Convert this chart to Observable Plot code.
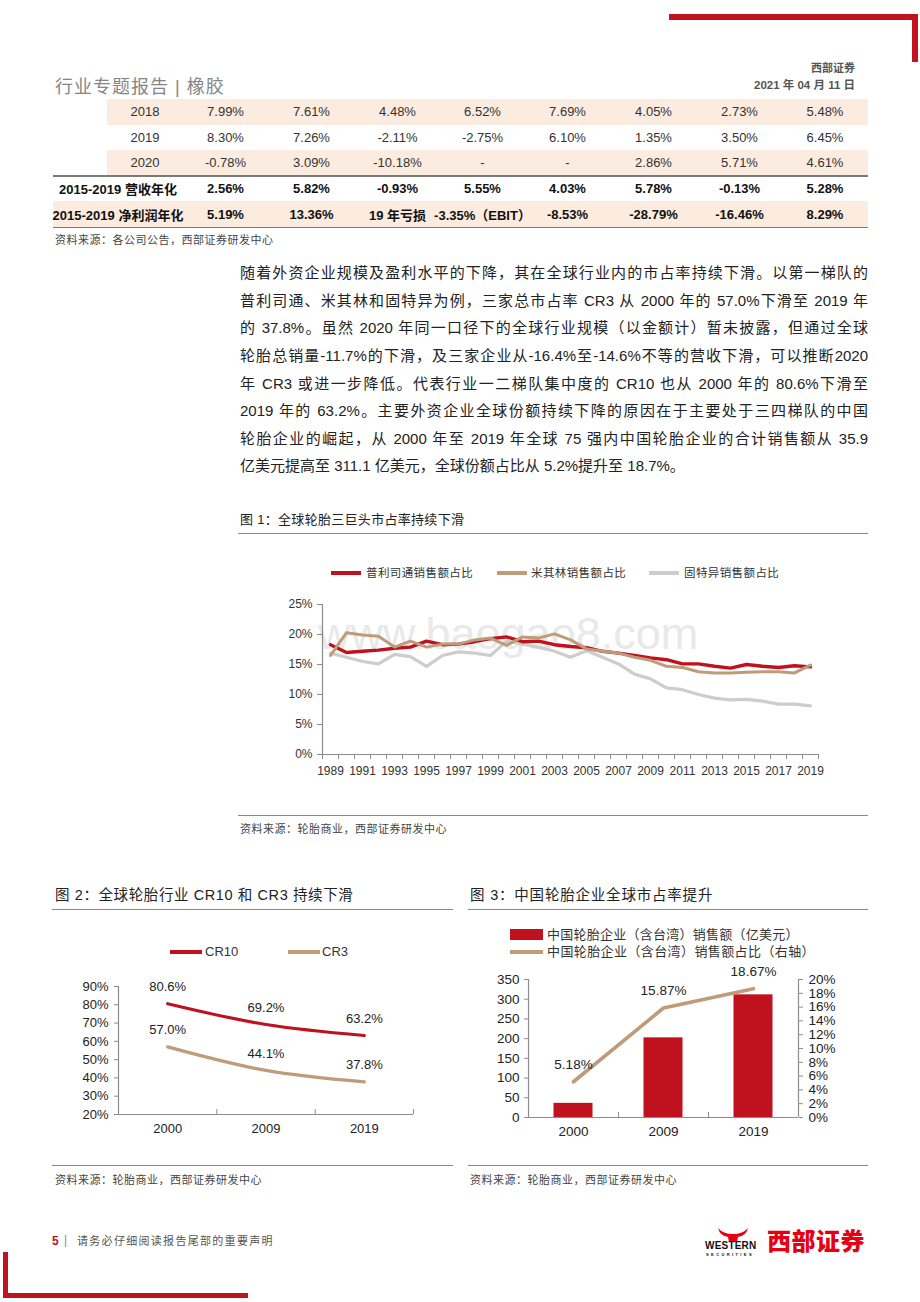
<!DOCTYPE html>
<html><head><meta charset="utf-8">
<script src="https://cdn.jsdelivr.net/npm/d3@7"></script>
<script src="https://cdn.jsdelivr.net/npm/@observablehq/plot@0.6"></script>
<style>
html,body{margin:0;padding:0;background:#fff;}
#page{position:relative;width:920px;height:1302px;overflow:hidden;font-family:"Liberation Sans","Noto Sans CJK SC",sans-serif;color:#333;}
.abs{position:absolute;white-space:nowrap;}
.bar{position:absolute;background:#c0121f;}
.rule{position:absolute;height:0;border-top:1.6px solid #8a8a8a;}
.cell{position:absolute;display:flex;justify-content:center;align-items:center;white-space:nowrap;font-size:13px;color:#333;}
.pline{position:absolute;left:240px;width:628px;font-size:15px;line-height:27.6px;height:27.6px;text-align:justify;text-align-last:justify;white-space:nowrap;color:#222;}
.src{position:absolute;font-size:11px;color:#444;letter-spacing:0.5px;white-space:nowrap;line-height:14px;}
.ttl{position:absolute;color:#222;white-space:nowrap;}
.leg{position:absolute;white-space:nowrap;color:#333;}
</style></head><body><div id="page">

<!-- frame decorations -->
<div class="bar" style="left:669px;top:14px;width:249px;height:6px;"></div>
<div class="bar" style="left:912px;top:14px;width:6px;height:48px;"></div>
<div class="bar" style="left:3px;top:1252px;width:5px;height:46px;"></div>
<div class="bar" style="left:3px;top:1293px;width:245px;height:5px;"></div>

<div class="abs" style="left:55px;top:76px;font-size:18px;line-height:22px;color:#858585;letter-spacing:1px;">行业专题报告 | 橡胶</div>
<div class="abs" style="right:65px;top:61px;font-size:11px;line-height:14px;color:#555;font-weight:bold;">西部证券</div>
<div class="abs" style="right:65px;top:78px;font-size:11.5px;line-height:14px;color:#555;font-weight:bold;">2021 年 04 月 11 日</div>

<div id="table"></div>
<div class="src" style="left:55px;top:233px;">资料来源：各公司公告，西部证券研发中心</div>

<div id="para"></div>

<!-- figure 1 -->
<div class="ttl" style="left:240px;top:512px;font-size:13px;line-height:16px;letter-spacing:0.3px;">图 1：全球轮胎三巨头市占率持续下滑</div>
<div class="rule" style="left:238px;top:533px;width:630px;"></div>
<div id="leg1"></div>
<div class="abs" style="left:318px;top:609px;font-size:45px;line-height:50px;color:#e9e9e9;font-family:'Liberation Sans',sans-serif;">www.baogao8.com</div>
<div id="chart1" class="abs" style="left:238px;top:590px;"></div>
<div class="rule" style="left:238px;top:815px;width:630px;"></div>
<div class="src" style="left:240px;top:822px;">资料来源：轮胎商业，西部证券研发中心</div>

<!-- figure 2 -->
<div class="ttl" style="left:55px;top:886px;font-size:14.5px;line-height:18px;letter-spacing:0.6px;">图 2：全球轮胎行业 CR10 和 CR3 持续下滑</div>
<div class="rule" style="left:52px;top:909px;width:401px;"></div>
<div id="leg2"></div>
<div id="chart2" class="abs" style="left:52px;top:965px;"></div>
<div class="rule" style="left:52px;top:1165px;width:401px;"></div>
<div class="src" style="left:55px;top:1173px;">资料来源：轮胎商业，西部证券研发中心</div>

<!-- figure 3 -->
<div class="ttl" style="left:470px;top:886px;font-size:14.5px;line-height:18px;letter-spacing:0.8px;">图 3：中国轮胎企业全球市占率提升</div>
<div class="rule" style="left:468px;top:909px;width:400px;"></div>
<div id="leg3"></div>
<div id="chart3" class="abs" style="left:468px;top:965px;"></div>
<div class="rule" style="left:468px;top:1165px;width:400px;"></div>
<div class="src" style="left:470px;top:1173px;">资料来源：轮胎商业，西部证券研发中心</div>

<!-- footer -->
<div class="abs" style="left:52px;top:1233px;font-size:12px;line-height:16px;color:#c0121f;font-weight:bold;">5</div>
<div class="abs" style="left:64px;top:1232px;font-size:12px;line-height:16px;color:#888;">|</div>
<div class="abs" style="left:77px;top:1234px;font-size:11px;line-height:14px;color:#555;letter-spacing:1.3px;">请务必仔细阅读报告尾部的重要声明</div>
<svg class="abs" style="left:716px;top:1227px;" width="34" height="16" viewBox="0 0 34 16">
  <path d="M2,1 Q4,9 12,10 L13,15 L21,15 L22,10 Q30,9 32,1 Q27,7 17,7 Q7,7 2,1 Z" fill="#e60012"/>
</svg>
<div class="abs" style="left:705px;top:1240px;font-size:10px;line-height:12px;font-weight:bold;color:#111;letter-spacing:0.2px;">WESTERN</div>
<div class="abs" style="left:706px;top:1252px;font-size:4px;line-height:5px;font-weight:bold;color:#111;letter-spacing:2.4px;">SECURITIES</div>
<div class="abs" style="left:767px;top:1228px;font-size:24px;line-height:28px;font-weight:900;color:#e60012;letter-spacing:0.5px;">西部证券</div>

</div>
<script>
// ---------------- data ----------------
const tableYears = ["2018", "2019", "2020"];
const tableRows = [
  ["7.99%", "7.61%", "4.48%", "6.52%", "7.69%", "4.05%", "2.73%", "5.48%"],
  ["8.30%", "7.26%", "-2.11%", "-2.75%", "6.10%", "1.35%", "3.50%", "6.45%"],
  ["-0.78%", "3.09%", "-10.18%", "-", "-", "2.86%", "5.71%", "4.61%"]
];
const revenueLabel = "2015-2019 营收年化";
const revenueCagr = ["2.56%", "5.82%", "-0.93%", "5.55%", "4.03%", "5.78%", "-0.13%", "5.28%"];
const profitLabel = "2015-2019 净利润年化";
const profitCagr = ["5.19%", "13.36%", "19 年亏损", "-3.35%（EBIT）", "-8.53%", "-28.79%", "-16.46%", "8.29%"];

const paragraphLines = [
  "随着外资企业规模及盈利水平的下降，其在全球行业内的市占率持续下滑。以第一梯队的",
  "普利司通、米其林和固特异为例，三家总市占率 CR3 从 2000 年的 57.0%下滑至 2019 年",
  "的 37.8%。虽然 2020 年同一口径下的全球行业规模（以金额计）暂未披露，但通过全球",
  "轮胎总销量-11.7%的下滑，及三家企业从-16.4%至-14.6%不等的营收下滑，可以推断2020",
  "年 CR3 或进一步降低。代表行业一二梯队集中度的 CR10 也从 2000 年的 80.6%下滑至",
  "2019 年的 63.2%。主要外资企业全球份额持续下降的原因在于主要处于三四梯队的中国",
  "轮胎企业的崛起，从 2000 年至 2019 年全球 75 强内中国轮胎企业的合计销售额从 35.9",
  "亿美元提高至 311.1 亿美元，全球份额占比从 5.2%提升至 18.7%。"
];

// Figure 1
const years1 = [1989, 1990, 1991, 1992, 1993, 1994, 1995, 1996, 1997, 1998, 1999, 2000, 2001, 2002, 2003, 2004, 2005, 2006, 2007, 2008, 2009, 2010, 2011, 2012, 2013, 2014, 2015, 2016, 2017, 2018, 2019];
const bridgestone = [18.3, 17.0, 17.2, 17.4, 17.7, 17.9, 18.9, 18.3, 18.4, 18.8, 19.3, 19.6, 18.8, 18.9, 18.3, 18.0, 17.8, 17.2, 16.9, 16.5, 16.1, 15.8, 15.1, 15.1, 14.7, 14.4, 15.0, 14.7, 14.5, 14.8, 14.6];
const michelin = [16.5, 20.3, 19.9, 19.7, 17.9, 18.9, 17.9, 18.4, 18.4, 19.1, 19.4, 18.2, 19.6, 19.4, 20.1, 19.1, 17.6, 17.2, 16.9, 16.2, 15.7, 14.7, 14.5, 13.8, 13.6, 13.6, 13.7, 13.8, 13.8, 13.6, 14.9];
const goodyear = [16.9, 16.2, 15.5, 15.1, 16.7, 16.3, 14.7, 16.5, 17.1, 16.9, 16.5, 18.9, 18.4, 17.9, 17.2, 16.2, 17.3, 16.2, 15.1, 13.4, 12.6, 11.1, 10.8, 10.0, 9.4, 9.1, 9.2, 8.9, 8.4, 8.4, 8.1];
const seriesNames1 = ["普利司通销售额占比", "米其林销售额占比", "固特异销售额占比"];
const yTicks1 = [0, 5, 10, 15, 20, 25];
const xLabelYears1 = [1989, 1991, 1993, 1995, 1997, 1999, 2001, 2003, 2005, 2007, 2009, 2011, 2013, 2015, 2017, 2019];

// Figure 2
const cats2 = ["2000", "2009", "2019"];
const cr10 = [80.6, 69.2, 63.2];
const cr3 = [57.0, 44.1, 37.8];
const seriesNames2 = ["CR10", "CR3"];
const yTicks2 = [20, 30, 40, 50, 60, 70, 80, 90];

// Figure 3
const cats3 = ["2000", "2009", "2019"];
const chinaSales = [35.9, 202.0, 311.1];
const chinaShare = [5.18, 15.87, 18.67];
const seriesNames3 = ["中国轮胎企业（含台湾）销售额（亿美元）", "中国轮胎企业（含台湾）销售额占比（右轴）"];
const leftTicks3 = [0, 50, 100, 150, 200, 250, 300, 350];
const rightTicks3 = [0, 2, 4, 6, 8, 10, 12, 14, 16, 18, 20];

// ---------------- styles ----------------
const RED = "#c0111f", TAN = "#bf9b79", GRAY = "#cdcdcd", AXIS = "#8c8c8c";
const FONT = "'Liberation Sans','Noto Sans CJK SC',sans-serif";

// ---------------- table ----------------
(function buildTable() {
  const host = document.getElementById("table");
  const edges = [53, 107, 183, 268, 355, 440, 525, 610, 697, 782, 868];
  const top0 = 99, rh = 25.6;
  const add = (html) => host.insertAdjacentHTML("beforeend", html);
  const bg = "#fcebdf";
  add(`<div class="abs" style="left:107px;top:${top0}px;width:761px;height:${rh}px;background:${bg}"></div>`);
  add(`<div class="abs" style="left:107px;top:${top0 + 2 * rh}px;width:761px;height:${rh}px;background:${bg}"></div>`);
  add(`<div class="abs" style="left:53px;top:${top0 + 4 * rh}px;width:815px;height:${rh}px;background:${bg}"></div>`);
  const cell = (c0, c1, r, text, bold) => add(`<div class="cell" style="left:${edges[c0]}px;width:${edges[c1] - edges[c0]}px;top:${top0 + r * rh}px;height:${rh}px;${bold ? "font-weight:bold;color:#111;" : ""}">${text}</div>`);
  tableYears.forEach((y, r) => {
    cell(1, 2, r, y, false);
    tableRows[r].forEach((v, j) => cell(j + 2, j + 3, r, v, false));
  });
  cell(0, 2, 3, revenueLabel, true);
  revenueCagr.forEach((v, j) => cell(j + 2, j + 3, 3, v, true));
  cell(0, 2, 4, profitLabel, true);
  profitCagr.forEach((v, j) => cell(j + 2, j + 3, 4, v, true));
  add(`<div class="abs" style="left:53px;top:${top0 + 3 * rh - 1}px;width:815px;height:2px;background:#7a7a7a"></div>`);
  add(`<div class="abs" style="left:53px;top:${top0 + 5 * rh - 0.5}px;width:815px;height:1.5px;background:#7a7a7a"></div>`);
})();

// ---------------- paragraph ----------------
(function buildPara() {
  const host = document.getElementById("para");
  paragraphLines.forEach((t, i) => {
    const last = i === paragraphLines.length - 1;
    host.insertAdjacentHTML("beforeend", `<div class="pline" style="top:${259.2 + i * 27.6}px;${last ? "text-align:left;text-align-last:left;" : ""}">${t}</div>`);
  });
})();

// ---------------- legends ----------------
function lineSwatch(x, y, w, color, th) {
  return `<div class="abs" style="left:${x}px;top:${y - th / 2}px;width:${w}px;height:${th}px;background:${color}"></div>`;
}
(function legends() {
  const l1 = document.getElementById("leg1");
  const cols1 = [RED, TAN, GRAY];
  const sx = [331, 497, 649], tx = [366, 531, 684];
  seriesNames1.forEach((n, i) => {
    l1.insertAdjacentHTML("beforeend", lineSwatch(sx[i], 573, 30, cols1[i], 3.5));
    l1.insertAdjacentHTML("beforeend", `<div class="leg" style="left:${tx[i]}px;top:565px;font-size:11.5px;line-height:16px;letter-spacing:0.4px;">${n}</div>`);
  });
  const l2 = document.getElementById("leg2");
  const cols2 = [RED, TAN];
  const sx2 = [170, 288], tx2 = [205, 322];
  seriesNames2.forEach((n, i) => {
    l2.insertAdjacentHTML("beforeend", lineSwatch(sx2[i], 952, 32, cols2[i], 3.5));
    l2.insertAdjacentHTML("beforeend", `<div class="leg" style="left:${tx2[i]}px;top:944px;font-size:13px;line-height:16px;">${n}</div>`);
  });
  const l3 = document.getElementById("leg3");
  l3.insertAdjacentHTML("beforeend", `<div class="abs" style="left:510px;top:929px;width:33px;height:11px;background:${RED}"></div>`);
  l3.insertAdjacentHTML("beforeend", `<div class="leg" style="left:547px;top:926px;font-size:13px;line-height:17px;letter-spacing:0.25px;">${seriesNames3[0]}</div>`);
  l3.insertAdjacentHTML("beforeend", lineSwatch(510, 952, 33, TAN, 4));
  l3.insertAdjacentHTML("beforeend", `<div class="leg" style="left:547px;top:943px;font-size:13px;line-height:17px;letter-spacing:0.4px;">${seriesNames3[1]}</div>`);
})();

// ---------------- chart 1 ----------------
(function chart1() {
  const rows = years1.map((y, i) => ({year: y, b: bridgestone[i], m: michelin[i], g: goodyear[i]}));
  const lo = years1[0] - 0.5, hi = years1[years1.length - 1] + 0.5;
  const bounds = years1.map(y => y - 0.5).concat([hi]);
  const svg = Plot.plot({
    width: 630, height: 200,
    marginLeft: 84, marginRight: 50, marginTop: 14, marginBottom: 36,
    style: {fontFamily: FONT, fontSize: "12px", background: "transparent", overflow: "visible", color: "#333"},
    x: {domain: [lo, hi]},
    y: {domain: [0, 25]},
    marks: [
      Plot.axisY({ticks: yTicks1, tickFormat: d => d + "%", tickSize: 5, tickPadding: 5, stroke: AXIS, fill: "#333", label: null, fontSize: 12}),
      Plot.axisX({ticks: bounds, tickFormat: () => "", tickSize: 5, stroke: AXIS, label: null}),
      Plot.axisX({ticks: xLabelYears1, tickFormat: d => String(d), tickSize: 0, tickPadding: 12, fill: "#333", label: null, fontSize: 12}),
      Plot.ruleY([0], {stroke: AXIS, strokeWidth: 1.2}),
      Plot.ruleX([lo], {stroke: AXIS, strokeWidth: 1.2}),
      Plot.lineY(rows, {x: "year", y: "g", stroke: GRAY, strokeWidth: 3.2}),
      Plot.lineY(rows, {x: "year", y: "b", stroke: RED, strokeWidth: 3.4}),
      Plot.lineY(rows, {x: "year", y: "m", stroke: TAN, strokeWidth: 3})
    ]
  });
  document.getElementById("chart1").appendChild(svg);
})();

// ---------------- chart 2 ----------------
(function chart2() {
  const rows = cats2.map((c, i) => ({i, c, a: cr10[i], b: cr3[i]}));
  const bounds = cats2.map((_, i) => i + 0.5);
  const H = 180, mt = 21, mb = 31;
  const svg = Plot.plot({
    width: 400, height: H,
    marginLeft: 66, marginRight: 39, marginTop: mt, marginBottom: mb,
    style: {fontFamily: FONT, fontSize: "13px", background: "transparent", overflow: "visible", color: "#333"},
    x: {domain: [-0.5, cats2.length - 0.5]},
    y: {domain: [yTicks2[0], yTicks2[yTicks2.length - 1]]},
    marks: [
      Plot.axisY({ticks: yTicks2, tickFormat: d => d + "%", tickSize: 4, tickPadding: 6, stroke: AXIS, fill: "#222", label: null, fontSize: 13}),
      Plot.axisX({ticks: rows.map(d => d.i), tickFormat: i => cats2[i], tickSize: 0, tickPadding: 9, fill: "#222", label: null, fontSize: 13}),
      Plot.ruleX(bounds, {stroke: AXIS, insetTop: H - mt - mb - 5}),
      Plot.ruleY([yTicks2[0]], {stroke: AXIS, strokeWidth: 1.2}),
      Plot.ruleX([-0.5], {stroke: AXIS, strokeWidth: 1.2}),
      Plot.lineY(rows, {x: "i", y: "a", stroke: RED, strokeWidth: 3.2, curve: "catmull-rom"}),
      Plot.lineY(rows, {x: "i", y: "b", stroke: TAN, strokeWidth: 3.2, curve: "catmull-rom"}),
      Plot.text(rows, {x: "i", y: "a", text: d => d.a.toFixed(1) + "%", dy: -17, fill: "#222", fontSize: 13}),
      Plot.text(rows, {x: "i", y: "b", text: d => d.b.toFixed(1) + "%", dy: -17, fill: "#222", fontSize: 13})
    ]
  });
  document.getElementById("chart2").appendChild(svg);
})();

// ---------------- chart 3 ----------------
(function chart3() {
  const yMax = leftTicks3[leftTicks3.length - 1], pMax = rightTicks3[rightTicks3.length - 1];
  const k = yMax / pMax;
  const rows = cats3.map((c, i) => ({i, c, s: chinaSales[i], p: chinaShare[i]}));
  const bounds = cats3.slice(1).map((_, i) => i + 0.5);
  const H = 180, mt = 14, mb = 28;
  const svg = Plot.plot({
    width: 400, height: H,
    marginLeft: 60, marginRight: 70, marginTop: mt, marginBottom: mb,
    style: {fontFamily: FONT, fontSize: "13px", background: "transparent", overflow: "visible", color: "#333"},
    x: {domain: [-0.5, cats3.length - 0.5]},
    y: {domain: [0, yMax]},
    marks: [
      Plot.rectY(rows, {x1: d => d.i - 0.5, x2: d => d.i + 0.5, y: "s", fill: RED, insetLeft: 25.5, insetRight: 25.5}),
      Plot.axisY({anchor: "left", ticks: leftTicks3, tickSize: 4, tickPadding: 5, stroke: AXIS, fill: "#222", label: null, fontSize: 13.5}),
      Plot.axisY({anchor: "right", ticks: rightTicks3.map(p => p * k), tickFormat: d => Math.round(d / k) + "%", tickSize: 4, tickPadding: 6, stroke: AXIS, fill: "#222", label: null, fontSize: 13.5}),
      Plot.axisX({ticks: rows.map(d => d.i), tickFormat: i => cats3[i], tickSize: 0, tickPadding: 9, fill: "#222", label: null, fontSize: 13.5}),
      Plot.ruleX(bounds, {stroke: AXIS, insetTop: H - mt - mb - 5}),
      Plot.ruleY([0], {stroke: AXIS, strokeWidth: 1.2}),
      Plot.ruleX([-0.5, cats3.length - 0.5], {stroke: AXIS, strokeWidth: 1.2}),
      Plot.lineY(rows, {x: "i", y: d => d.p * k, stroke: TAN, strokeWidth: 3.6}),
      Plot.text(rows, {x: "i", y: d => d.p * k, text: d => d.p.toFixed(2) + "%", dy: -17, fill: "#222", fontSize: 13.5})
    ]
  });
  document.getElementById("chart3").appendChild(svg);
})();
</script>
</body></html>
